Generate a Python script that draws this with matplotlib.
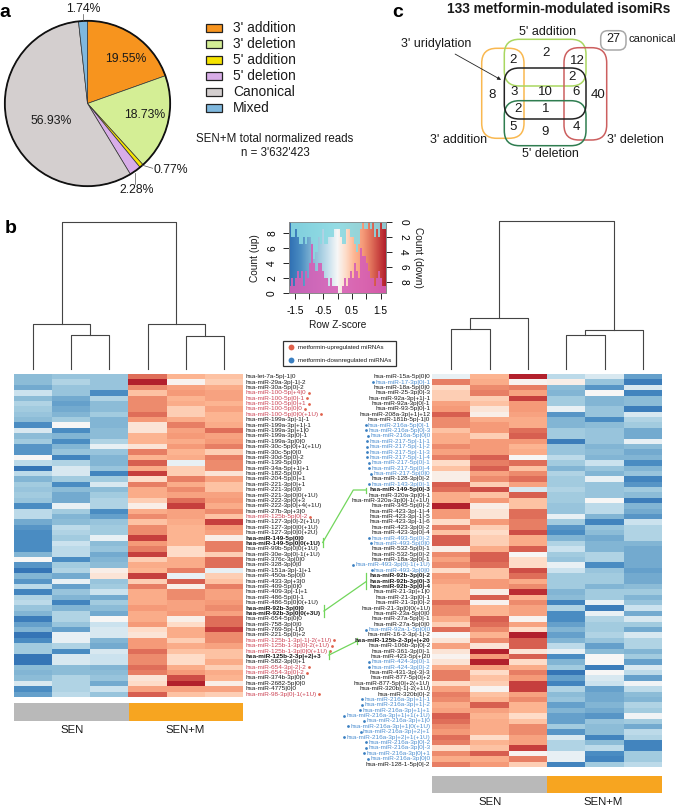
import matplotlib
matplotlib.use('Agg')
import matplotlib.pyplot as plt
import numpy as np
from matplotlib.colors import LinearSegmentedColormap
from matplotlib.patches import FancyBboxPatch, Rectangle, Circle

plt.rcParams['font.family'] = ['Liberation Sans', 'DejaVu Sans']

W, H = 677, 809

# pie
pieNames = ["3' addition", "3' deletion", "5' addition", "5' deletion", "Canonical", "Mixed"]
pieValues = [19.55, 18.73, 0.77, 2.28, 56.93, 1.74]
pieColors = ['#f7941e', '#d4ee95', '#f5e300', '#d8ade8', '#d4cfcf', '#7fb8de']

# venn
vennNumbers = ['2', '2', '12', '2', '8', '3', '10', '6', '40', '2', '1', '5', '9', '4']

# colour key histograms
upCounts = [1,2,1,2,3,2,3,1,3,2,4,7,4,3,4,4,3,2,2,1,2,1,1,1,0,0,1,2,1,2,3,2,4,3,2,6,5,5,4,3,2,2,1,2,3,2,1,1]
downCounts = [0,2,2,1,2,3,3,2,3,2,2,3,5,4,2,3,1,3,3,2,2,2,1,1,1,2,3,3,1,1,2,2,3,4,3,1,0,1,1,0,1,0,2,1,2,0,1,1]

# left heatmap, z-scores read by eye (SEN x3, SEN+M x3)
leftLabels = [
    'hsa-let-7a-5p|-1|0', 'hsa-miR-29a-3p|-1|-2', 'hsa-miR-30a-5p|0|-2', 'hsa-miR-100-5p|+4|0',
    'hsa-miR-100-5p|0|-1', 'hsa-miR-100-5p|0|+1', 'hsa-miR-100-5p|0|0', 'hsa-miR-100-5p|0|0(+1U)',
    'hsa-miR-199a-3p|-1|-1', 'hsa-miR-199a-3p|+1|-1', 'hsa-miR-199a-3p|+1|0', 'hsa-miR-199a-3p|0|-1',
    'hsa-miR-199a-3p|0|0', 'hsa-miR-30c-5p|0|+1(+1U)', 'hsa-miR-30c-5p|0|0', 'hsa-miR-30d-5p|0|-2',
    'hsa-miR-139-5p|0|0', 'hsa-miR-34a-5p|+1|+1', 'hsa-miR-182-5p|0|0', 'hsa-miR-204-5p|0|+1',
    'hsa-miR-221-3p|0|+1', 'hsa-miR-221-3p|0|0', 'hsa-miR-221-3p|0|0(+1U)', 'hsa-miR-222-3p|0|+3',
    'hsa-miR-222-3p|0|+4(+1U)', 'hsa-miR-27b-3p|+3|0', 'hsa-miR-125b-5p|0|-2', 'hsa-miR-127-3p|0|-2(+1U)',
    'hsa-miR-127-3p|0|0(+1U)', 'hsa-miR-127-3p|0|0(+2U)', 'hsa-miR-149-5p|0|0', 'hsa-miR-149-5p|0|0(+1U)',
    'hsa-miR-99b-5p|0|0(+1U)', 'hsa-miR-30e-3p|0|-1(+1U)', 'hsa-miR-376c-3p|0|0', 'hsa-miR-328-3p|0|0',
    'hsa-miR-151a-3p|-1|+1', 'hsa-miR-450a-5p|0|0', 'hsa-miR-433-3p|+3|0', 'hsa-miR-409-5p|0|0',
    'hsa-miR-409-3p|-1|+1', 'hsa-miR-486-5p|0|-1', 'hsa-miR-486-5p|0|0(+1U)', 'hsa-miR-92b-3p|0|0',
    'hsa-miR-92b-3p|0|0(+3U)', 'hsa-miR-654-5p|0|0', 'hsa-miR-758-3p|0|0', 'hsa-miR-769-5p|-1|0',
    'hsa-miR-221-5p|0|+2', 'hsa-miR-125b-1-3p|-1|-2(+1U)', 'hsa-miR-125b-1-3p|0|-2(+1U)',
    'hsa-miR-125b-1-3p|0|0(+1U)', 'hsa-miR-125b-2-3p|+2|+3', 'hsa-miR-582-3p|0|+1', 'hsa-miR-654-3p|-2|-2',
    'hsa-miR-654-3p|0|-2', 'hsa-miR-374b-3p|0|0', 'hsa-miR-2682-5p|0|0', 'hsa-miR-4775|0|0',
    'hsa-miR-98-3p|0|-1(+1U)']
leftRed = [3, 4, 5, 6, 7, 26, 49, 50, 51, 54, 55, 59]
leftBold = [30, 31, 43, 44, 52]
leftHeat = [
    [-.8,-.7,-.7,1.2,.6,.5], [-.8,-.5,-.7,1.7,.05,.4], [-1.0,-.7,-.7,1.0,.8,.7], [-.3,-.7,-1.3,.5,.9,.8],
    [-.8,-1.0,-.5,1.0,.6,.8], [-.5,-1.1,-.8,1.0,.7,.6], [-.6,-1.0,-.8,1.0,.4,.8], [-.7,-.9,-.6,1.2,.4,.6],
    [-.8,-.6,-.9,.9,.7,.6], [-1.3,0,-.9,.2,1.1,.7], [-.2,-1.3,-.8,.2,.8,1.2], [-.8,-.9,-.8,.6,.9,.8],
    [-.6,-1.3,-.5,.6,.7,.9], [-1.2,-.9,-.1,.2,.9,1.1], [-1.2,-.7,-.7,1.1,.6,.4], [0,-1.4,-.9,.6,.7,1.1],
    [-.4,-.5,-.9,1.3,-.1,1.0], [-1.6,-.2,-.7,.7,.4,1.0], [-.4,-.2,-1.4,1.5,.4,.2], [-.9,-.6,-.6,.3,1.1,.8],
    [-.6,-1.3,-.2,1.1,.7,.5], [-.7,-.8,-.8,.7,1.0,.5], [-.6,-1.0,-.6,.7,.8,.8], [-.7,-1.0,-.5,.4,1.2,.9],
    [-1.3,-.1,-.5,.1,1.5,.7], [-.4,-.6,-1.3,.7,.8,1.0], [-.4,-.9,-1.1,1.0,.8,.5], [-1.0,-.8,-.7,.5,.7,1.5],
    [-1.2,-.4,-.6,1.0,.6,.9], [-1.3,-.5,-.6,1.0,.6,.8], [-1.3,-.6,-.1,1.5,.6,.1], [-1.3,-.3,-.8,.9,.6,1.1],
    [-1.3,-.4,-.7,1.1,.3,1.1], [-.9,-.4,-1.0,1.5,.3,.4], [0,-1.3,-.9,.4,.7,1.2], [-1.2,-.6,-.8,.7,.7,1.2],
    [-1.6,-.5,.1,.6,1.1,-.1], [-.9,-1.0,.2,1.5,-.1,.4], [-1.2,-.1,-.7,.4,1.3,.5], [-.4,-1.1,-.6,1.1,.1,1.1],
    [-1.4,-.7,-.3,.7,1.0,.8], [-.5,-.9,-1.0,.7,1.0,.8], [-.4,-1.4,-.6,.7,.8,.9], [-.7,-.9,-.8,.9,.8,1.0],
    [-.9,-.5,-1.0,.7,.9,.8], [-1.5,-.5,0,.7,.1,1.2], [-1.1,-.7,-.3,.9,.3,1.2], [-.9,-1.1,-.2,.3,.7,1.5],
    [-1.6,-.1,-.2,.2,.7,1.0], [-1.3,-.1,-.9,.9,.4,1.0], [-.6,-.5,-1.0,.9,.7,.8], [-.6,-1.3,-.2,1.2,.5,.5],
    [-1.6,-.2,-.3,1.0,.3,.5], [-1.6,-.2,-.3,1.0,.3,.7], [-.8,-.8,-.9,1.2,.7,.4], [-.9,-.8,-.8,1.1,.9,.7],
    [-.8,-.5,-.7,.2,1.4,.6], [-.2,-.5,-1.0,.3,1.7,.1], [-1.3,-.5,-.3,.8,.8,.8], [-1.1,-.4,-.7,1.3,.5,.4]]

# right heatmap
rightLabels = [
    'hsa-miR-15a-5p|0|0', 'hsa-miR-17-3p|0|-1', 'hsa-miR-18a-5p|0|0', 'hsa-miR-25-3p|0|-3',
    'hsa-miR-92a-3p|+1|-1', 'hsa-miR-92a-3p|0|-1', 'hsa-miR-93-5p|0|-1', 'hsa-miR-208a-3p|+1|+12',
    'hsa-miR-181b-5p|-1|0', 'hsa-miR-216a-5p|0|-1', 'hsa-miR-216a-5p|0|-3', 'hsa-miR-216a-5p|0|0',
    'hsa-miR-217-5p|-1|-1', 'hsa-miR-217-5p|-1|-2', 'hsa-miR-217-5p|-1|-3', 'hsa-miR-217-5p|-1|-4',
    'hsa-miR-217-5p|0|-1', 'hsa-miR-217-5p|0|-4', 'hsa-miR-217-5p|0|0', 'hsa-miR-128-3p|0|-2',
    'hsa-miR-143-3p|0|-1', 'hsa-miR-149-5p|0|-3', 'hsa-miR-320a-3p|0|-1', 'hsa-miR-320a-3p|0|-1(+1U)',
    'hsa-miR-345-5p|0|-2', 'hsa-miR-423-3p|-1|-4', 'hsa-miR-423-3p|-1|-5', 'hsa-miR-423-3p|-1|-6',
    'hsa-miR-423-3p|0|-2', 'hsa-miR-423-3p|0|-4', 'hsa-miR-493-5p|0|-2', 'hsa-miR-493-5p|0|0',
    'hsa-miR-532-5p|0|-1', 'hsa-miR-532-5p|0|-2', 'hsa-miR-18a-3p|0|-1', 'hsa-miR-493-3p|0|-1(+1U)',
    'hsa-miR-493-3p|0|0', 'hsa-miR-92b-3p|0|-2', 'hsa-miR-92b-3p|0|-3', 'hsa-miR-92b-3p|0|-4',
    'hsa-miR-21-3p|+1|0', 'hsa-miR-21-3p|0|-1', 'hsa-miR-21-3p|0|-2', 'hsa-miR-21-3p|0|0(+1U)',
    'hsa-miR-23a-5p|0|0', 'hsa-miR-27a-5p|0|-1', 'hsa-miR-27a-5p|0|0', 'hsa-miR-92a-1-5p|0|0',
    'hsa-miR-16-2-3p|-1|-2', 'hsa-miR-125b-2-3p|+|+20', 'hsa-miR-106b-3p|0|-2', 'hsa-miR-361-3p|0|-1',
    'hsa-miR-423-5p|+|20', 'hsa-miR-424-3p|0|-1', 'hsa-miR-424-3p|0|-2', 'hsa-miR-431-3p|-3|-3',
    'hsa-miR-877-5p|0|+2', 'hsa-miR-877-5p|0|+2(+1U)', 'hsa-miR-320b|-1|-2(+1U)', 'hsa-miR-320b|0|-2',
    'hsa-miR-216a-3p|+1|-1', 'hsa-miR-216a-3p|+1|-2', 'hsa-miR-216a-3p|+1|+1', 'hsa-miR-216a-3p|+1|+1(+1U)',
    'hsa-miR-216a-3p|+1|0', 'hsa-miR-216a-3p|+1|0(+1U)', 'hsa-miR-216a-3p|+2|+1', 'hsa-miR-216a-3p|+2|+1(+1U)',
    'hsa-miR-216a-3p|0|-2', 'hsa-miR-216a-3p|0|-3', 'hsa-miR-216a-3p|0|+1', 'hsa-miR-216a-3p|0|0',
    'hsa-miR-128-1-5p|0|-2']
rightBlue = [1, 9, 10, 11, 12, 13, 14, 15, 16, 17, 18, 20, 30, 31, 35, 36, 47, 53, 54,
             60, 61, 62, 63, 64, 65, 66, 67, 68, 69, 70, 71]
rightBold = [21, 37, 38, 39, 49]
rightHeat = [
    [-.1,.6,1.7,-.4,-.2,-1.1], [1.1,.7,.05,.1,-.7,-1.5], [.3,1.0,1.1,-.8,-1.2,-.2], [.4,1.1,.8,-.9,0,-1.4],
    [.4,.4,1.5,-.6,-.9,-.8], [.8,.5,.9,-.6,-.9,-.8], [.9,.2,.9,-.1,-.7,-1.5], [1.3,.1,.8,-1.2,-.7,-.2],
    [1.0,.7,.7,-.9,-1.3,-.5], [1.0,.9,.7,-.9,-.8,-.6], [.5,.9,1.2,-.6,-.7,-1.0], [.7,.4,1.3,-.6,-.7,-1.0],
    [.7,.9,.9,-1.5,-.7,-.1], [1.0,.9,.6,-.7,-.9,-.8], [.8,.9,.7,-.7,-.8,-1.0], [1.1,1.3,0,-.4,-.9,-.9],
    [.3,1.1,1.2,-.6,-.3,-1.3], [.5,1.3,.5,-.9,-.7,-.9], [.1,.8,1.0,-.5,-.9,-.7], [.1,1.0,1.2,-.6,-.1,-1.4],
    [1.3,.4,.8,-.6,-.7,-1.2], [1.2,1.4,-.2,-.5,-.7,-.6], [.7,.5,1.3,-.6,-.7,-.8], [.7,.9,.5,-.6,0,-1.5],
    [1.7,.1,.5,-.7,-.4,-.9], [.9,.2,1.2,-.7,-.4,-1.0], [.9,.2,1.2,-.1,-.9,-1.2], [.3,.9,1.1,-.6,-1.4,-.3],
    [1.1,.4,1.1,-1.2,-.7,-.5], [.5,.3,1.4,-1.3,-.8,-.5], [1.3,.4,.7,-.9,-1.0,-.5], [1.3,.4,.7,-.5,-.9,-.9],
    [.1,.7,1.3,-.3,-.9,-1.0], [1.0,1.3,0,-.6,-.5,-1.0], [.8,1.3,.3,-.7,-.5,-1.0], [1.0,1.2,.3,-.1,-1.3,-1.0],
    [.3,.5,1.4,-.3,-.7,-1.1], [.9,.5,1.2,-.6,-.6,-1.0], [.8,.9,.7,-.6,-.6,-1.0], [.6,.9,1.0,-.6,-.9,-.8],
    [.6,.1,1.6,-.9,-.6,-.6], [.6,1.3,.6,-.8,-.6,-.9], [1.2,.05,1.0,-1.4,-.1,-.7], [1.0,.6,.8,-.5,-1.5,-.3],
    [1.0,.6,.8,-1.3,-.1,-1.0], [.7,1.3,.05,-1.3,-.5,-.2], [.4,1.2,.8,-1.1,-.6,-.6], [1.2,1.0,.3,-.9,-.6,-1.0],
    [0,.6,1.7,-1.1,-.5,-.2], [.2,1.0,1.3,-.9,-.7,-.5], [.8,.2,1.3,-.4,-1.1,-.5], [.2,1.7,.2,-.1,-.8,-.9],
    [.05,.9,1.3,-1.3,0,-.6], [.2,1.7,.3,-.9,0,-1.1], [.7,.8,.7,-.6,-1.5,-.2], [1.1,.3,1.1,-1.6,0,-.4],
    [1.1,.5,.9,-1.1,-.2,-1.1], [.3,.4,1.5,-1.4,-.3,-.05], [.8,.05,1.5,-.5,-1.1,-.4], [1.1,.5,.8,-.8,-1.0,-.8],
    [1.0,.6,1.0,-.7,-1.0,-.9], [.7,1.3,.6,-1.1,-.9,-.5], [.8,.8,.6,-.9,-1.0,-.6], [1.3,.6,.3,-1.1,-1.2,-.05],
    [1.2,.7,.5,-1.1,-.7,-.6], [1.0,.7,1.0,-.6,-.8,-1.0], [.9,.7,1.0,-1.2,-.8,-.4], [1.2,.3,.8,-.2,-1.4,-.5],
    [1.1,.6,.8,-.5,-.8,-1.4], [.3,.5,1.5,-.5,-.4,-1.4], [1.0,1.3,.05,-.1,-1.3,-.6], [.7,.7,1.1,-.1,-1.4,-.6],
    [1.1,.9,.4,-1.4,-.6,-.4]]

# cluster merge heights in pixels from the top of the figure (inner, outer, root)
leftTree = [334.7, 323.7, 336.0, 324.3, 221.7]
rightTree = [329.0, 318.3, 334.7, 330.3, 221.3]

zStops = [-1.7, -1.3, -.9, -.6, -.3, 0, .3, .6, .9, 1.2, 1.5, 1.7]
zColors = ['#2f6fb3', '#4a8cc2', '#82b5d4', '#a3cce0', '#cbe2ee', '#f7f7f7',
           '#fedcc8', '#fdb592', '#f59a78', '#e0705a', '#c63f3d', '#b2202c']
zCmap = LinearSegmentedColormap.from_list('z', [((z + 1.7) / 3.4, c) for z, c in zip(zStops, zColors)])

fig = plt.figure(figsize=(W / 100, H / 100), dpi=100)


def pxAxes(x0, y0, x1, y1):
    return fig.add_axes([x0 / W, 1 - y1 / H, (x1 - x0) / W, (y1 - y0) / H])


# overlay in image pixels for labels, brackets, trees
ov = fig.add_axes([0, 0, 1, 1], zorder=5)
ov.set_xlim(0, W)
ov.set_ylim(H, 0)
ov.axis('off')
ov.patch.set_alpha(0)


def txt(x, y, s, size=9, ha='center', va='center', **kw):
    return ov.text(x, y, s, fontsize=size, ha=ha, va=va, color=kw.pop('color', '#1a1a1a'), **kw)


########################
# a: pie
########################
pieAx = pxAxes(4, 20, 171, 187)
pieAx.pie(pieValues, colors=pieColors, startangle=90, counterclock=False, radius=1,
          wedgeprops={'edgecolor': '#333333', 'linewidth': 0.5})
pieAx.add_patch(Circle((0, 0), 1, fill=False, edgecolor='#111111', linewidth=1.3, clip_on=False))
pieAx.set_xlim(-1.01, 1.01)
pieAx.set_ylim(-1.01, 1.01)

txt(5, 12, 'a', 14, weight='bold', color='black')
txt(126, 59.3, '19.55%', 8.8)
txt(144.3, 115, '18.73%', 8.8)
txt(51, 120.7, '56.93%', 8.8)
txt(83.3, 9.3, '1.74%', 8.8)
txt(171, 170, '0.77%', 8.8)
txt(136.7, 190, '2.28%', 8.8)
ov.plot([82.7, 82.7], [14, 20], color='#555555', lw=0.5)
ov.plot([141.7, 152.7], [165, 168.3], color='#555555', lw=0.5)
ov.plot([135.3, 135.3], [173, 184], color='#555555', lw=0.5)

for i, (name, col) in enumerate(zip(pieNames, pieColors)):
    yy = 28 + i * 16
    ov.add_patch(Rectangle((206, yy - 3.7), 16, 7.4, facecolor=col, edgecolor='#222222', lw=0.9))
    txt(233, yy, name, 9.9, ha='left')
txt(275, 139.3, 'SEN+M total normalized reads', 8.3)
txt(275, 153.3, "n = 3'632'423", 8.3)

########################
# c: venn
########################
txt(398, 12, 'c', 14, weight='bold', color='black')
txt(559, 9, '133 metformin-modulated isomiRs', 9.8, weight='bold')
vennBoxes = [(481.7, 48.3, 524, 138.3, '#f9b850'), (504.3, 39.3, 586, 86, '#a9d760'),
             (564, 47.7, 606.7, 140, '#cc5f5f'), (504.3, 100.7, 586, 145.7, '#2f7d50'),
             (504.3, 68, 586, 119, '#222222'), (600.7, 30.7, 626, 50, '#a8a8a8')]
for i, (x0, y0, x1, y1, col) in enumerate(vennBoxes):
    r = 7 if i == 5 else 15
    ov.add_patch(FancyBboxPatch((x0 + r, y0 + r), x1 - x0 - 2 * r, y1 - y0 - 2 * r,
                                boxstyle='round,pad=%g,rounding_size=%g' % (r, r),
                                fill=False, edgecolor=col, lw=1.1))
vennX = [513.3, 545.7, 577.3, 571.7, 492.3, 514.3, 545.7, 576, 598.3, 518.3, 545.3, 512.7, 545.3, 576]
vennY = [60, 53.3, 60.7, 76.7, 95, 92.3, 92.3, 92.3, 95, 109, 109, 127.3, 131.7, 127.3]
for x, y, s in zip(vennX, vennY, vennNumbers):
    txt(x, y, s, 9.5)
txt(613.3, 39.3, '27', 9)
txt(628.5, 39.3, 'canonical', 8.0, ha='left')
txt(547.3, 31.7, "5' addition", 9)
txt(435.7, 44, "3' uridylation", 9)
txt(458.3, 140, "3' addition", 9)
txt(635, 140, "3' deletion", 9)
txt(550, 154, "5' deletion", 9)
ov.annotate('', xy=(503.5, 81.2), xytext=(452.7, 52.7),
            arrowprops={'arrowstyle': '-|>', 'color': '#222222', 'lw': 0.6, 'mutation_scale': 5})


########################
# b: heatmaps
########################
def plotHeat(x0, y0, x1, y1, data):
    ax = pxAxes(x0, y0, x1, y1)
    ax.imshow(np.array(data), cmap=zCmap, vmin=-1.7, vmax=1.7, aspect='auto', interpolation='nearest')
    ax.axis('off')


def plotTree(x0, x1, heights, oddFirst, bottom=368.7):
    # six columns, two clusters of three
    cw = (x1 - x0) / 6
    cx = [x0 + cw * (i + .5) for i in range(6)]
    tops = []
    for k, start in enumerate((0, 3)):
        a, b, c = cx[start], cx[start + 1], cx[start + 2]
        inner, outer = heights[2 * k], heights[2 * k + 1]
        if oddFirst:
            pairMid, lone = (b + c) / 2, a
        else:
            pairMid, lone = (a + b) / 2, c
        pair = (b, c) if oddFirst else (a, b)
        ov.plot([pair[0], pair[0], pair[1], pair[1]], [bottom, inner, inner, bottom], color='#444444', lw=0.8)
        ov.plot([lone, lone, pairMid, pairMid], [bottom, outer, outer, inner], color='#444444', lw=0.8)
        tops.append(((lone + pairMid) / 2, outer))
    ov.plot([tops[0][0], tops[0][0], tops[1][0], tops[1][0]],
            [tops[0][1], heights[4], heights[4], tops[1][1]], color='#444444', lw=0.8)


def plotLabels(labels, x, y0, rowH, ha, red, blue, bold):
    rend = fig.canvas.get_renderer()
    inv = ov.transData.inverted()
    for i, s in enumerate(labels):
        col = '#1a1a1a'
        if i in red:
            col = '#cc4455'
        if i in blue:
            col = '#4d8fd1'
        t = ov.text(x, y0 + rowH * (i + .5), s, fontsize=4.6, ha=ha, va='center', color=col,
                    weight='bold' if i in bold else 'normal')
        if i in red or i in blue:
            ext = t.get_window_extent(rend)
            if i in red:
                xd = inv.transform((ext.x1, ext.y0))[0] + 2.2
                ov.plot([xd], [y0 + rowH * (i + .5)], 'o', ms=2, color='#e0604a', mew=0)
            else:
                xd = inv.transform((ext.x0, ext.y0))[0] - 2.2
                ov.plot([xd], [y0 + rowH * (i + .5)], 'o', ms=2, color='#3a7fc1', mew=0)


txt(11, 228, 'b', 14, weight='bold', color='black')
plotHeat(14, 374, 243, 696.8, leftHeat)
plotHeat(432, 374, 662, 766.7, rightHeat)
plotTree(14, 243, leftTree, True)
plotTree(432, 662, rightTree, False)
plotLabels(leftLabels, 246, 374, 322.8 / len(leftLabels), 'left', leftRed, [], leftBold)
plotLabels(rightLabels, 430.3, 374, 392.7 / len(rightLabels), 'right', [], rightBlue, rightBold)

# group bars
for x0, x1, y0, y1 in [(14, 243, 703, 721), (432, 662, 775.7, 793.3)]:
    mid = (x0 + x1) / 2
    ov.add_patch(Rectangle((x0, y0), mid - x0, y1 - y0, facecolor='#b9b9b9', edgecolor='none'))
    ov.add_patch(Rectangle((mid, y0), x1 - mid, y1 - y0, facecolor='#f7a520', edgecolor='none'))
txt(71.7, 730, 'SEN', 8.2)
txt(185, 730, 'SEN+M', 8.2)
txt(490, 802.3, 'SEN', 8.2)
txt(603.3, 802.3, 'SEN+M', 8.2)

# green brackets joining the same isomiR groups
green = '#72d65c'
brackets = [[(322.7, 542.5), (353.3, 490), (366, 490)], [(324, 611), (366, 581.7)], [(329, 655), (357.3, 641)]]
bars = [[(322.7, 538.3, 546.7), (366, 487.7, 493.3)], [(324, 605, 616.7), (366, 573.3, 589.3)],
        [(329, 651, 659.3), (357.3, 637.7, 644)]]
for pts, bb in zip(brackets, bars):
    ov.plot([p[0] for p in pts], [p[1] for p in pts], color=green, lw=0.9)
    for bx, by0, by1 in bb:
        ov.plot([bx, bx], [by0, by1], color=green, lw=0.9)

########################
# colour key
########################
keyAx = pxAxes(289.3, 221.7, 386, 293.3)
keyAx.imshow(np.linspace(-1.7, 1.7, 200)[None, :], cmap=zCmap, vmin=-1.7, vmax=1.7, aspect='auto',
             extent=(-1.69, 1.69, 0, 9.55))
binEdges = np.linspace(-1.69, 1.69, len(upCounts) + 1)
binMid = (binEdges[:-1] + binEdges[1:]) / 2
binW = binEdges[1] - binEdges[0]
keyAx.bar(binMid, upCounts, width=binW, color='#d65fb6', alpha=0.9, linewidth=0)
keyAx.set_xlim(-1.69, 1.69)
keyAx.set_ylim(0, 9.55)
keyAx.set_xticks([-1.5, -1, -.5, 0, .5, 1, 1.5])
keyAx.set_xticklabels(['-1.5', '', '-0.5', '', '0.5', '', '1.5'], fontsize=7.3)
keyAx.set_yticks([0, 2, 4, 6, 8])
keyAx.set_yticklabels(['0', '2', '4', '6', '8'], fontsize=7.3, rotation=90, va='center')
keyAx.tick_params(length=4.3, width=0.6, pad=4.5)
twin = keyAx.twinx()
twin.bar(binMid, downCounts, width=binW, color='#8ad9e2', alpha=0.9, linewidth=0)
twin.set_ylim(9.55, 0)
twin.set_yticks([0, 2, 4, 6, 8])
twin.set_yticklabels(['0', '2', '4', '6', '8'], fontsize=7.3, rotation=-90, va='center')
twin.tick_params(length=4.3, width=0.6, pad=4.5)
for a in (keyAx, twin):
    for sp in a.spines.values():
        sp.set_color('#888888')
        sp.set_linewidth(0.6)
txt(337.7, 325, 'Row Z-score', 7.3)
txt(255, 257.7, 'Count (up)', 7.3, rotation=90)
txt(418, 257.7, 'Count (down)', 7.3, rotation=-90)

# legend of the dots
ov.add_patch(Rectangle((283.3, 340.7), 112.7, 25.3, fill=False, edgecolor='#333333', lw=0.9))
ov.plot([291], [347.3], 'o', ms=4.2, color='#e0604a', mew=0)
ov.plot([291], [360.3], 'o', ms=4.2, color='#3a7fc1', mew=0)
txt(298.3, 347.3, 'metformin-upregulated miRNAs', 4.45, ha='left')
txt(298.3, 360.3, 'metformin-downregulated miRNAs', 4.45, ha='left')

fig.savefig('out.png', dpi=100)
